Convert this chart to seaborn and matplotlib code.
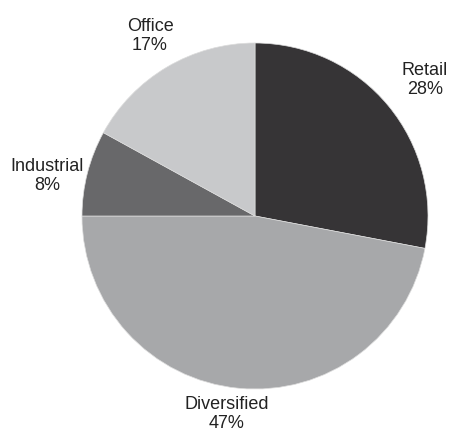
import matplotlib
matplotlib.use("Agg")
import matplotlib.pyplot as plt
import seaborn as sns

categories = ["Retail", "Diversified", "Industrial", "Office"]
shares = [28, 47, 8, 17]
colors = ["#363436", "#a7a8aa", "#68686a", "#c8c9cb"]

# label anchor points (pixels from the top-left corner)
label_xy = [(425, 80), (227, 414), (47, 176), (150, 36)]

sns.set_theme(style="white")
plt.rcParams["font.family"] = ["Liberation Sans", "DejaVu Sans"]

W, H = 451, 432
fig = plt.figure(figsize=(W / 100, H / 100), dpi=100)
ax = fig.add_axes([0, 0, 1, 1])

wedges, _ = ax.pie(
    shares,
    colors=colors,
    startangle=90,
    counterclock=False,
    center=(255, H - 216),
    radius=173,
    wedgeprops=dict(edgecolor="#dcdcdc", linewidth=0.5),
    frame=True,
)
ax.set_xlim(0, W)
ax.set_ylim(0, H)
ax.set_aspect("equal")
ax.axis("off")

for c, v, (x, y) in zip(categories, shares, label_xy):
    ax.text(x, H - y, f"{c}\n{v}%", ha="center", va="center",
            fontsize=13, color="#222222", linespacing=1.2)

fig.savefig("out.png", dpi=100, facecolor="white")
